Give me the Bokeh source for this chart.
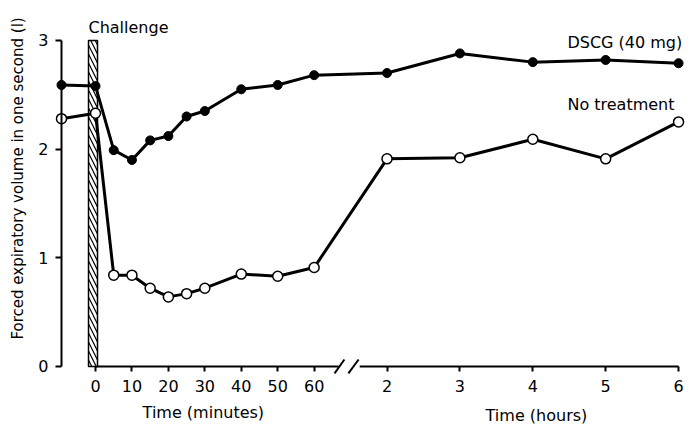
import math
from bokeh.plotting import figure
from bokeh.models import LinearAxis, FixedTicker, Label, Range1d
from bokeh.embed import file_html
from bokeh.resources import INLINE

# ---- data ----
pre_time = -9.33                     # pre-challenge baseline (plotted on the y axis)
minute_times = [0, 5, 10, 15, 20, 25, 30, 40, 50, 60]
hour_times = [2, 3, 4, 5, 6]
minute_ticks = [0, 10, 20, 30, 40, 50, 60]
hour_ticks = [2, 3, 4, 5, 6]
y_ticks = [0, 1, 2, 3]

dscg_pre = 2.59
dscg_minutes = [2.58, 1.99, 1.90, 2.08, 2.12, 2.30, 2.35, 2.55, 2.59, 2.68]
dscg_hours = [2.70, 2.88, 2.80, 2.82, 2.79]

none_pre = 2.28
none_minutes = [2.33, 0.84, 0.84, 0.72, 0.64, 0.67, 0.72, 0.85, 0.83, 0.91]
none_hours = [1.91, 1.92, 2.09, 1.91, 2.25]

series_names = ["DSCG (40 mg)", "No treatment"]


def hour_pos(h):
    # broken axis: the hours section follows the minutes section
    return 80 + 20 * (h - 2)


FONT = "DejaVu Sans"

p = figure(width=689, height=424, output_backend="svg", toolbar_location=None,
           x_range=Range1d(-26.07, 163.0), y_range=Range1d(-0.534, 3.367),
           x_axis_type=None, y_axis_type=None,
           min_border_left=0, min_border_right=0, min_border_top=0, min_border_bottom=0)
p.outline_line_color = None
p.xgrid.visible = False
p.ygrid.visible = False
p.background_fill_color = "white"
p.border_fill_color = "white"

# y axis at the baseline position
yaxis = LinearAxis(ticker=FixedTicker(ticks=y_ticks), fixed_location=pre_time, bounds=(0, 3))
yaxis.axis_line_width = 2
yaxis.major_tick_line_width = 2
yaxis.major_tick_out = 6
yaxis.major_tick_in = 0
yaxis.minor_tick_line_color = None
yaxis.major_label_standoff = 7
yaxis.major_label_text_font = FONT
yaxis.major_label_text_font_size = "16px"
yaxis.major_label_text_color = "black"
p.add_layout(yaxis, "left")

# x axis (broken)
overrides = {hour_pos(h): str(h) for h in hour_ticks}
xaxis = LinearAxis(ticker=FixedTicker(ticks=minute_ticks + [hour_pos(h) for h in hour_ticks]),
                   major_label_overrides=overrides, fixed_location=0)
xaxis.axis_line_color = None
xaxis.major_tick_line_width = 2
xaxis.major_tick_out = 5
xaxis.major_tick_in = 0
xaxis.minor_tick_line_color = None
xaxis.major_label_standoff = 9
xaxis.major_label_text_font = FONT
xaxis.major_label_text_font_size = "16px"
xaxis.major_label_text_color = "black"
p.add_layout(xaxis, "below")

# axis line with break marks
p.segment(x0=[0, 72.5], y0=[0, 0], x1=[66.7, hour_pos(6)], y1=[0, 0],
          line_color="black", line_width=2)
p.segment(x0=[65.6, 69.4], y0=[-0.064, -0.064], x1=[68.3, 72.2], y1=[0.064, 0.064],
          line_color="black", line_width=2)

# challenge bar
p.quad(left=[-1.92], right=[0.55], bottom=[0], top=[3],
       fill_color="white", line_color="black", line_width=1.5,
       hatch_pattern="\\", hatch_color="black", hatch_scale=9, hatch_weight=1.2)

x_all = [pre_time] + minute_times + [hour_pos(h) for h in hour_times]
dscg = [dscg_pre] + dscg_minutes + dscg_hours
none = [none_pre] + none_minutes + none_hours

p.line(x_all, dscg, line_color="black", line_width=3)
p.line(x_all, none, line_color="black", line_width=3)
p.scatter(x_all, dscg, size=9, marker="circle", fill_color="black", line_color="black")
p.scatter(x_all, none, size=10, marker="circle", fill_color="white", line_color="black",
          line_width=1.5)

lab = dict(text_font=FONT, text_color="black", text_baseline="middle")
p.add_layout(Label(x=129.5, y=2.98, text=series_names[0], text_font_size="16px", **lab))
p.add_layout(Label(x=129.5, y=2.41, text=series_names[1], text_font_size="16px", **lab))
p.add_layout(Label(x=-1.92, y=3.12, text="Challenge", text_font_size="16px", **lab))
p.add_layout(Label(x=29.6, y=-0.425, text="Time (minutes)", text_align="center",
                   text_font_size="16px", **lab))
p.add_layout(Label(x=121, y=-0.45, text="Time (hours)", text_align="center",
                   text_font_size="16px", **lab))
p.add_layout(Label(x=-21.4, y=1.73, angle=math.pi / 2, text="Forced expiratory volume in one second (l)",
                   text_align="center", text_font_size="15px", **lab))

open("out.html", "w").write(file_html(p, INLINE))
